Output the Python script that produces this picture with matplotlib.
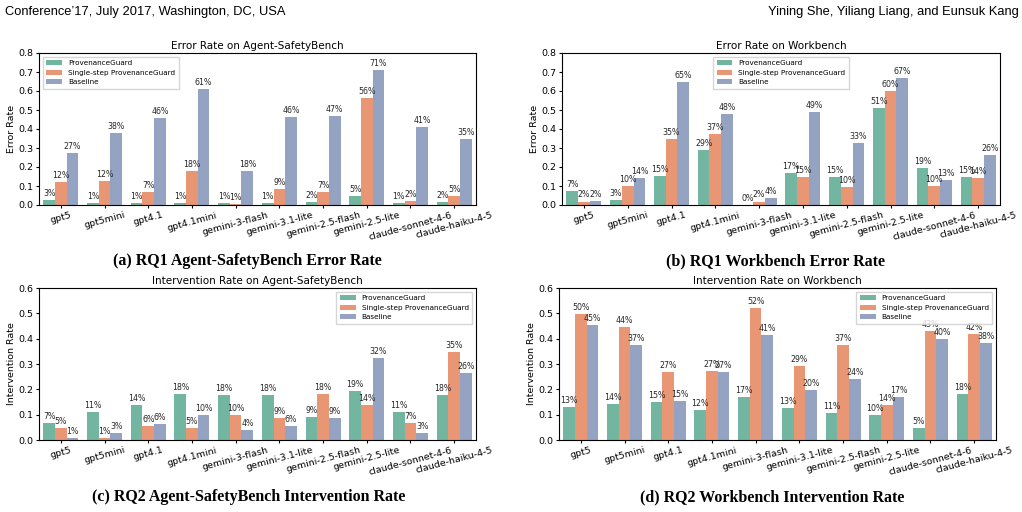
import numpy as np
import matplotlib
matplotlib.use("Agg")
import matplotlib.pyplot as plt
import seaborn as sns

# ==============================================================================
# DADOS
# ==============================================================================
MODELOS = ["gpt5", "gpt5mini", "gpt4.1", "gpt4.1mini", "gemini-3-flash",
           "gemini-3.1-lite", "gemini-2.5-flash", "gemini-2.5-lite",
           "claude-sonnet-4-6", "claude-haiku-4-5"]
METODOS = ["ProvenanceGuard", "Single-step ProvenanceGuard", "Baseline"]

# RQ1 - Error rate, Agent-SafetyBench
err_asb_pg = [0.026, 0.012, 0.012, 0.012, 0.012, 0.012, 0.017, 0.048, 0.012, 0.017]
err_asb_single = [0.12, 0.124, 0.066, 0.18, 0.007, 0.086, 0.066, 0.562, 0.019, 0.047]
err_asb_base = [0.272, 0.38, 0.46, 0.61, 0.18, 0.462, 0.468, 0.709, 0.41, 0.347]

# RQ1 - Error rate, Workbench
err_wb_pg = [0.072, 0.028, 0.152, 0.29, 0.002, 0.168, 0.149, 0.51, 0.194, 0.149]
err_wb_single = [0.018, 0.102, 0.348, 0.373, 0.018, 0.146, 0.095, 0.599, 0.10, 0.144]
err_wb_base = [0.022, 0.14, 0.648, 0.48, 0.035, 0.49, 0.326, 0.667, 0.131, 0.264]

# RQ2 - Intervention rate, Agent-SafetyBench
int_asb_pg = [0.067, 0.112, 0.138, 0.181, 0.176, 0.176, 0.09, 0.193, 0.11, 0.176]
int_asb_single = [0.046, 0.008, 0.056, 0.046, 0.10, 0.087, 0.181, 0.138, 0.066, 0.346]
int_asb_base = [0.008, 0.028, 0.063, 0.098, 0.039, 0.056, 0.087, 0.323, 0.028, 0.264]

# RQ2 - Intervention rate, Workbench
int_wb_pg = [0.13, 0.142, 0.15, 0.118, 0.169, 0.126, 0.106, 0.098, 0.047, 0.181]
int_wb_single = [0.496, 0.445, 0.268, 0.273, 0.52, 0.291, 0.374, 0.138, 0.429, 0.417]
int_wb_base = [0.453, 0.374, 0.154, 0.268, 0.413, 0.197, 0.24, 0.169, 0.398, 0.382]

CORES = [sns.desaturate(c, 0.75) for c in sns.color_palette("Set2", 3)]

W, H = 1022, 512


def rect(x0, y0, x1, y1):
    # pixels -> coordenadas da figura
    return [x0 / W, 1 - y1 / H, (x1 - x0) / W, (y1 - y0) / H]


def painel(ax, series, titulo, ylabel, ymax, legenda_loc):
    x = np.arange(len(MODELOS))
    largura = 0.8 / 3
    for i, (vals, nome) in enumerate(zip(series, METODOS)):
        rects = ax.bar(x + (i - 1) * largura, vals, largura, color=CORES[i], label=nome)
        ax.bar_label(rects, labels=[f"{v * 100:.0f}%" for v in vals],
                     padding=1.5, fontsize=5.7, color="#262626")
    ax.set_xlim(-0.5, len(MODELOS) - 0.5)
    ax.set_ylim(0, ymax)
    ticks = np.arange(0, ymax + 0.001, 0.1)
    ax.set_yticks(ticks)
    ax.set_yticklabels([f"{t:.1f}" for t in ticks])
    ax.set_xticks(x)
    ax.set_xticklabels(MODELOS, rotation=15, ha="center", fontsize=6.8)
    ax.tick_params(axis="y", labelsize=6.8, length=2.5, pad=1.5)
    ax.tick_params(axis="x", length=2.5, pad=1.5)
    ax.set_title(titulo, fontsize=7.5, pad=3)
    ax.set_ylabel(ylabel, fontsize=6.8, labelpad=2)
    ax.legend(loc=legenda_loc, fontsize=5.2, handlelength=2.2, borderpad=0.5,
              labelspacing=0.45, framealpha=0.8, edgecolor="#cccccc", fancybox=False)


fig = plt.figure(figsize=(W / 100, H / 100), dpi=100)

ax_a = fig.add_axes(rect(39, 53, 476, 205))
ax_b = fig.add_axes(rect(562, 53, 1000, 205))
ax_c = fig.add_axes(rect(39, 288, 476, 440))
ax_d = fig.add_axes(rect(559, 288, 996, 440))

painel(ax_a, [err_asb_pg, err_asb_single, err_asb_base],
       "Error Rate on Agent-SafetyBench", "Error Rate", 0.8, "upper left")
painel(ax_b, [err_wb_pg, err_wb_single, err_wb_base],
       "Error Rate on Workbench", "Error Rate", 0.8, "upper center")
painel(ax_c, [int_asb_pg, int_asb_single, int_asb_base],
       "Intervention Rate on Agent-SafetyBench", "Intervention Rate", 0.6, "upper right")
painel(ax_d, [int_wb_pg, int_wb_single, int_wb_base],
       "Intervention Rate on Workbench", "Intervention Rate", 0.6, "upper right")

# Cabeçalho e legendas da página
fonte_cab = ["Liberation Sans Narrow", "Liberation Sans", "DejaVu Sans"]
fig.text(5 / W, 1 - 12 / H, "Conference’17, July 2017, Washington, DC, USA",
         family=fonte_cab, fontsize=9.3, va="center", ha="left")
fig.text(1019 / W, 1 - 12 / H, "Yining She, Yiliang Liang, and Eunsuk Kang",
         family=fonte_cab, fontsize=9.3, va="center", ha="right")

fonte_leg = ["Liberation Serif", "DejaVu Serif"]
for xc, yc, txt in [(247, 261, "(a) RQ1 Agent-SafetyBench Error Rate"),
                    (775, 261, "(b) RQ1 Workbench Error Rate"),
                    (249, 497, "(c) RQ2 Agent-SafetyBench Intervention Rate"),
                    (772, 497, "(d) RQ2 Workbench Intervention Rate")]:
    fig.text(xc / W, 1 - yc / H, txt, family=fonte_leg, fontsize=11.5,
             fontweight="bold", ha="center", va="center")

fig.savefig("out.png", dpi=100)
